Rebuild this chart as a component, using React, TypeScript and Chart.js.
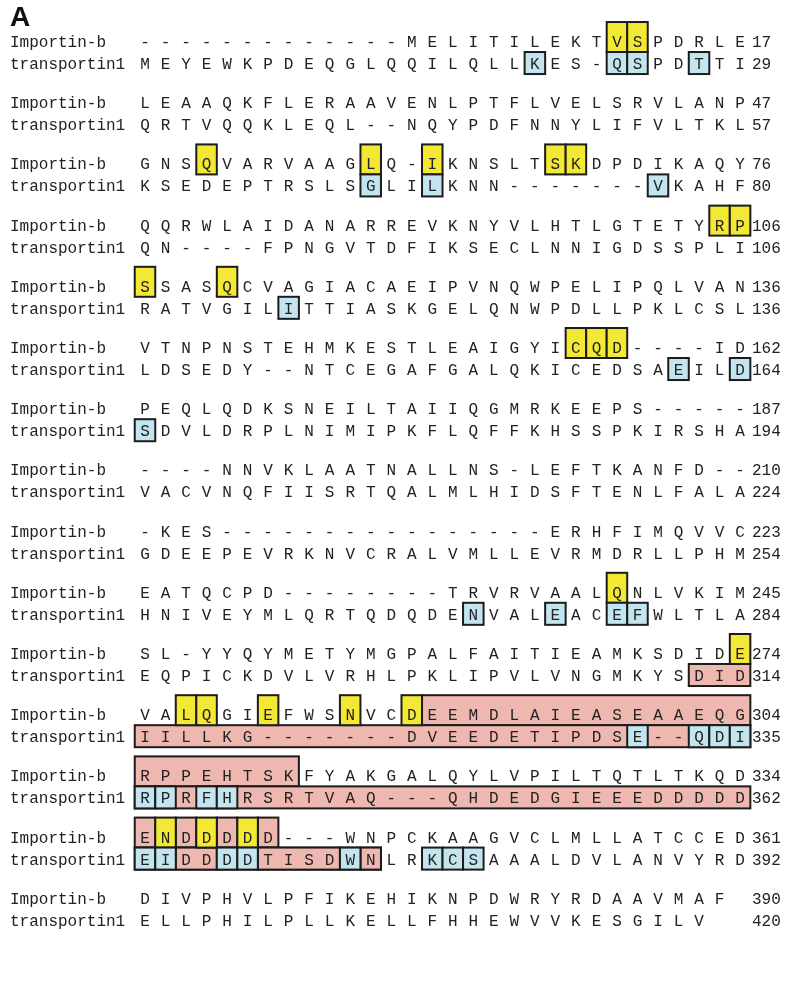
import React, { useEffect, useRef } from "react";
import { Chart, registerables } from "chart.js";

Chart.register(...registerables);

// ---------------- DATA ----------------
const panelLabel = "A";
const seqNames = ["Importin-b", "transportin1"];

const importinRows = [
  "-------------MELITILEKTVSPDRLE",
  "LEAAQKFLERAAVENLPTFLVELSRVLANP",
  "GNSQVARVAAGLQ-IKNSLTSKDPDIKAQY",
  "QQRWLAIDANARREVKNYVLHTLGTETYRP",
  "SSASQCVAGIACAEIPVNQWPELIPQLVAN",
  "VTNPNSTEHMKESTLEAIGYICQD----ID",
  "PEQLQDKSNEILTAIIQGMRKEEPS-----",
  "----NNVKLAATNALLNS-LEFTKANFD--",
  "-KES----------------ERHFIMQVVC",
  "EATQCPD--------TRVRVAALQNLVKIM",
  "SL-YYQYMETYMGPALFAITIEAMKSDIDE",
  "VALQGIEFWSNVCDEEMDLAIEASEAAEQG",
  "RPPEHTSKFYAKGALQYLVPILTQTLTKQD",
  "ENDDDDD---WNPCKAAGVCLMLLATCCED",
  "DIVPHVLPFIKEHIKNPDWRYRDAAVMAF",
];

const transportinRows = [
  "MEYEWKPDEQGLQQILQLLKES-QSPDTTI",
  "QRTVQQKLEQL--NQYPDFNNYLIFVLTKL",
  "KSEDEPTRSLSGLILKNN-------VKAHF",
  "QN----FPNGVTDFIKSECLNNIGDSSPLI",
  "RATVGILITTIASKGELQNWPDLLPKLCSL",
  "LDSEDY--NTCEGAFGALQKICEDSAEILD",
  "SDVLDRPLNIMIPKFLQFFKHSSPKIRSHA",
  "VACVNQFIISRTQALMLHIDSFTENLFALA",
  "GDEEPEVRKNVCRALVMLLEVRMDRLLPHM",
  "HNIVEYMLQRTQDQDENVALEACEFWLTLA",
  "EQPICKDVLVRHLPKLIPVLVNGMKYSDID",
  "IILLKG-------DVEEDETIPDSE--QDI",
  "RPRFHRSRTVAQ---QHDEDGIEEEDDDDD",
  "EIDDDDTISDWNLRKCSAAALDVLANVYRD",
  "ELLPHILPLLKELLFHHEWVVKESGILV",
];

const importinEnds = [17, 47, 76, 106, 136, 162, 187, 210, 223, 245, 274, 304, 334, 361, 390];
const transportinEnds = [29, 57, 80, 106, 136, 164, 194, 224, 254, 284, 314, 335, 362, 392, 420];

// [block (1-based), column (1-based)] on the Importin-b row
const importinYellow = [
  [1, 24], [1, 25], [3, 4], [3, 12], [3, 15], [3, 21], [3, 22], [4, 29], [4, 30],
  [5, 1], [5, 5], [6, 22], [6, 23], [6, 24], [10, 24], [11, 30],
  [12, 3], [12, 4], [12, 7], [12, 11], [12, 14], [14, 2], [14, 4], [14, 6],
];

// [block, column] on the transportin1 row
const transportinBlue = [
  [1, 20], [1, 24], [1, 25], [1, 28], [3, 12], [3, 15], [3, 26], [5, 8],
  [6, 27], [6, 30], [7, 1], [10, 17], [10, 21], [10, 24], [10, 25],
  [12, 25], [12, 28], [12, 29], [12, 30], [13, 1], [13, 2], [13, 4], [13, 5],
  [14, 1], [14, 2], [14, 5], [14, 6], [14, 11], [14, 15], [14, 16], [14, 17],
];

// [block, sequence (0 importin / 1 transportin), fromColumn, toColumn]
const pinkSpans = [
  [11, 1, 28, 30],
  [12, 0, 15, 30], [12, 1, 1, 30],
  [13, 0, 1, 8], [13, 1, 1, 30],
  [14, 0, 1, 1], [14, 0, 3, 3], [14, 0, 5, 5], [14, 0, 7, 7],
  [14, 1, 1, 12], [14, 1, 3, 4], [14, 1, 7, 10], [14, 1, 12, 12],
];

// ---------------- STYLE ----------------
const ROW_GAP = 0.36; // transportin row offset (in block units)
const IMP_TOP = -0.31;
const IMP_BOT = 0.18;
const TP_HALF = 0.18;
const LABEL_COL = -5.58;
const END_COL = 30.58;
const HEADER_Y = -0.41;

const YELLOW = "#f3e935";
const BLUE = "#c3e5ef";
const PINK = "#eeb8b0";
const EDGE = "#1c1c1c";
const INK = "#222222";
const MONO = '"Liberation Mono", "DejaVu Sans Mono", monospace';

function buildPoints(rows: string[], offset: number) {
  const pts: { x: number; y: number; ch: string }[] = [];
  rows.forEach((row, b) => {
    for (let i = 0; i < row.length; i++) {
      pts.push({ x: i + 1, y: b + offset, ch: row[i] });
    }
  });
  return pts;
}

const alignmentPlugin = {
  id: "alignment",
  beforeDatasetsDraw(chart: any) {
    const { ctx, scales } = chart;
    const xs = scales.x;
    const ys = scales.y;
    const box = (block: number, seq: number, c0: number, c1: number, fill: string) => {
      const b = block - 1;
      const top = seq === 0 ? b + IMP_TOP : b + ROW_GAP - TP_HALF;
      const bot = seq === 0 ? b + IMP_BOT : b + ROW_GAP + TP_HALF;
      const x0 = xs.getPixelForValue(c0 - 0.5);
      const x1 = xs.getPixelForValue(c1 + 0.5);
      const y0 = ys.getPixelForValue(top);
      const y1 = ys.getPixelForValue(bot);
      ctx.save();
      ctx.fillStyle = fill;
      ctx.fillRect(x0, y0, x1 - x0, y1 - y0);
      ctx.strokeStyle = EDGE;
      ctx.lineWidth = 2;
      ctx.strokeRect(x0, y0, x1 - x0, y1 - y0);
      ctx.restore();
    };
    pinkSpans.forEach(([b, s, c0, c1]) => box(b, s, c0, c1, PINK));
    importinYellow.forEach(([b, c]) => box(b, 0, c, c, YELLOW));
    transportinBlue.forEach(([b, c]) => box(b, 1, c, c, BLUE));
  },
  afterDatasetsDraw(chart: any) {
    const { ctx, scales } = chart;
    const xs = scales.x;
    const ys = scales.y;
    ctx.save();
    ctx.fillStyle = INK;
    ctx.textBaseline = "alphabetic";
    // residues
    ctx.font = `16px ${MONO}`;
    ctx.textAlign = "center";
    chart.data.datasets.forEach((ds: any, di: number) => {
      const meta = chart.getDatasetMeta(di);
      meta.data.forEach((el: any, i: number) => {
        ctx.fillText(ds.data[i].ch, el.x, el.y + 6);
      });
    });
    // names and end numbers
    ctx.textAlign = "left";
    const lx = xs.getPixelForValue(LABEL_COL);
    const ex = xs.getPixelForValue(END_COL);
    importinRows.forEach((_, b) => {
      const y0 = ys.getPixelForValue(b);
      const y1 = ys.getPixelForValue(b + ROW_GAP);
      ctx.fillText(seqNames[0], lx, y0 + 6);
      ctx.fillText(seqNames[1], lx, y1 + 6);
      ctx.fillText(String(importinEnds[b]), ex, y0 + 6);
      ctx.fillText(String(transportinEnds[b]), ex, y1 + 6);
    });
    // panel letter
    ctx.font = 'bold 28px "Liberation Sans", Arial, sans-serif';
    ctx.fillStyle = "#111";
    ctx.fillText(panelLabel, lx, ys.getPixelForValue(HEADER_Y) + 10);
    ctx.restore();
  },
};

export default function App() {
  const ref = useRef<HTMLCanvasElement | null>(null);
  useEffect(() => {
    if (!ref.current) return;
    const chart = new Chart(ref.current, {
      type: "scatter",
      data: {
        datasets: [
          { label: seqNames[0], data: buildPoints(importinRows, 0) as any, pointRadius: 0, showLine: false },
          { label: seqNames[1], data: buildPoints(transportinRows, ROW_GAP) as any, pointRadius: 0, showLine: false },
        ],
      },
      options: {
        animation: false,
        responsive: false,
        devicePixelRatio: 1,
        events: [],
        layout: { padding: 0 },
        plugins: { legend: { display: false }, tooltip: { enabled: false } },
        scales: {
          x: { type: "linear", min: -6.066, max: 32.238, display: false },
          y: { type: "linear", min: -0.67, max: 15.54, reverse: true, display: false },
        },
      },
      plugins: [alignmentPlugin],
    });
    return () => chart.destroy();
  }, []);
  return (
    <div style={{ position: "fixed", left: 0, top: 0, width: 786, height: 992, background: "#fff" }}>
      <canvas ref={ref} width={786} height={992} />
    </div>
  );
}
